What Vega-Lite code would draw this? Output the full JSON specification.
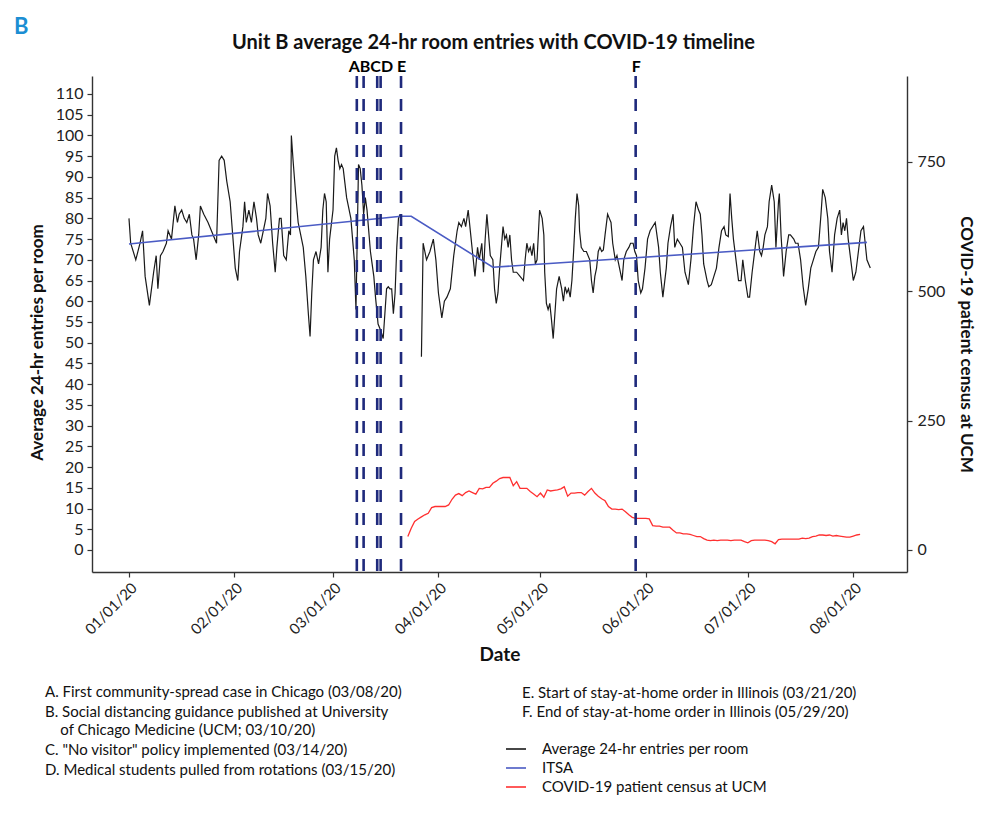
{
  "$schema": "https://vega.github.io/schema/vega-lite/v6.json",
  "width": 815,
  "height": 496,
  "autosize": {"type": "none"},
  "padding": {"left": 92, "top": 76, "right": 80, "bottom": 243},
  "background": "white",
  "title": {"text": "B", "anchor": "start", "frame": "group", "dx": -78, "dy": 11, "offset": 4, "fontSize": 22, "fontWeight": "bold", "color": "#1c8ed3", "font": "Lato"},
  "datasets": {
    "entries": [
      {"t":"2020-01-01T00:00","v":80,"seg":1},{"t":"2020-01-01T12:00","v":74,"seg":1},{"t":"2020-01-03T00:00","v":70,"seg":1},{"t":"2020-01-04T06:00","v":74,"seg":1},{"t":"2020-01-05T00:00","v":77,"seg":1},{"t":"2020-01-05T18:00","v":66,"seg":1},{"t":"2020-01-07T00:00","v":59,"seg":1},{"t":"2020-01-08T06:00","v":67,"seg":1},{"t":"2020-01-09T00:00","v":71,"seg":1},{"t":"2020-01-09T12:00","v":63,"seg":1},{"t":"2020-01-10T06:00","v":71,"seg":1},{"t":"2020-01-11T00:00","v":72,"seg":1},{"t":"2020-01-12T00:00","v":74,"seg":1},{"t":"2020-01-12T12:00","v":77,"seg":1},{"t":"2020-01-13T12:00","v":75,"seg":1},{"t":"2020-01-14T12:00","v":83,"seg":1},{"t":"2020-01-15T06:00","v":79,"seg":1},{"t":"2020-01-15T18:00","v":81,"seg":1},{"t":"2020-01-16T12:00","v":82,"seg":1},{"t":"2020-01-17T06:00","v":80,"seg":1},{"t":"2020-01-18T00:00","v":79,"seg":1},{"t":"2020-01-18T18:00","v":81,"seg":1},{"t":"2020-01-19T12:00","v":76,"seg":1},{"t":"2020-01-20T00:00","v":75,"seg":1},{"t":"2020-01-20T18:00","v":70,"seg":1},{"t":"2020-01-21T12:00","v":76,"seg":1},{"t":"2020-01-22T00:00","v":83,"seg":1},{"t":"2020-01-23T00:00","v":81,"seg":1},{"t":"2020-01-24T06:00","v":79,"seg":1},{"t":"2020-01-25T18:00","v":76,"seg":1},{"t":"2020-01-26T18:00","v":74,"seg":1},{"t":"2020-01-27T12:00","v":94,"seg":1},{"t":"2020-01-28T06:00","v":95,"seg":1},{"t":"2020-01-29T00:00","v":94,"seg":1},{"t":"2020-01-29T18:00","v":89,"seg":1},{"t":"2020-01-30T18:00","v":84,"seg":1},{"t":"2020-01-31T12:00","v":76,"seg":1},{"t":"2020-02-01T06:00","v":68,"seg":1},{"t":"2020-02-02T00:00","v":65,"seg":1},{"t":"2020-02-02T12:00","v":72,"seg":1},{"t":"2020-02-03T12:00","v":78,"seg":1},{"t":"2020-02-04T00:00","v":84,"seg":1},{"t":"2020-02-04T12:00","v":79,"seg":1},{"t":"2020-02-05T06:00","v":82,"seg":1},{"t":"2020-02-06T00:00","v":79,"seg":1},{"t":"2020-02-06T18:00","v":84,"seg":1},{"t":"2020-02-07T12:00","v":80,"seg":1},{"t":"2020-02-08T00:00","v":76,"seg":1},{"t":"2020-02-08T18:00","v":74,"seg":1},{"t":"2020-02-09T12:00","v":77,"seg":1},{"t":"2020-02-10T06:00","v":80,"seg":1},{"t":"2020-02-10T18:00","v":86,"seg":1},{"t":"2020-02-11T12:00","v":83,"seg":1},{"t":"2020-02-12T06:00","v":74,"seg":1},{"t":"2020-02-13T00:00","v":67,"seg":1},{"t":"2020-02-13T12:00","v":73,"seg":1},{"t":"2020-02-14T06:00","v":80,"seg":1},{"t":"2020-02-14T18:00","v":80,"seg":1},{"t":"2020-02-15T12:00","v":71,"seg":1},{"t":"2020-02-16T06:00","v":70,"seg":1},{"t":"2020-02-17T00:00","v":77,"seg":1},{"t":"2020-02-17T12:00","v":76,"seg":1},{"t":"2020-02-17T18:00","v":100,"seg":1},{"t":"2020-02-18T06:00","v":94,"seg":1},{"t":"2020-02-19T00:00","v":86,"seg":1},{"t":"2020-02-19T18:00","v":79,"seg":1},{"t":"2020-02-20T12:00","v":76,"seg":1},{"t":"2020-02-21T06:00","v":73,"seg":1},{"t":"2020-02-22T00:00","v":66,"seg":1},{"t":"2020-02-22T18:00","v":57,"seg":1},{"t":"2020-02-23T06:00","v":51.5,"seg":1},{"t":"2020-02-23T18:00","v":62,"seg":1},{"t":"2020-02-24T06:00","v":70,"seg":1},{"t":"2020-02-25T00:00","v":72,"seg":1},{"t":"2020-02-25T18:00","v":69,"seg":1},{"t":"2020-02-26T12:00","v":73,"seg":1},{"t":"2020-02-27T00:00","v":82,"seg":1},{"t":"2020-02-27T12:00","v":86,"seg":1},{"t":"2020-02-28T00:00","v":84,"seg":1},{"t":"2020-02-28T12:00","v":67,"seg":1},{"t":"2020-02-29T00:00","v":75,"seg":1},{"t":"2020-03-01T00:00","v":82,"seg":1},{"t":"2020-03-01T12:00","v":95,"seg":1},{"t":"2020-03-02T00:00","v":97,"seg":1},{"t":"2020-03-02T12:00","v":94,"seg":1},{"t":"2020-03-03T00:00","v":92,"seg":1},{"t":"2020-03-03T12:00","v":93,"seg":1},{"t":"2020-03-04T00:00","v":92,"seg":1},{"t":"2020-03-04T12:00","v":88.5,"seg":1},{"t":"2020-03-05T00:00","v":85,"seg":1},{"t":"2020-03-05T12:00","v":83,"seg":1},{"t":"2020-03-06T06:00","v":80,"seg":1},{"t":"2020-03-06T18:00","v":75,"seg":1},{"t":"2020-03-07T06:00","v":70,"seg":1},{"t":"2020-03-07T18:00","v":58,"seg":1},{"t":"2020-03-08T12:00","v":93,"seg":1},{"t":"2020-03-09T00:00","v":92,"seg":1},{"t":"2020-03-09T12:00","v":88,"seg":1},{"t":"2020-03-10T00:00","v":81,"seg":1},{"t":"2020-03-10T12:00","v":85,"seg":1},{"t":"2020-03-11T00:00","v":82,"seg":1},{"t":"2020-03-11T12:00","v":77,"seg":1},{"t":"2020-03-12T00:00","v":72,"seg":1},{"t":"2020-03-12T12:00","v":69,"seg":1},{"t":"2020-03-13T00:00","v":66,"seg":1},{"t":"2020-03-13T12:00","v":61,"seg":1},{"t":"2020-03-14T06:00","v":54.5,"seg":1},{"t":"2020-03-15T00:00","v":53,"seg":1},{"t":"2020-03-15T18:00","v":51,"seg":1},{"t":"2020-03-16T06:00","v":57,"seg":1},{"t":"2020-03-16T18:00","v":63,"seg":1},{"t":"2020-03-17T06:00","v":63.5,"seg":1},{"t":"2020-03-17T18:00","v":63,"seg":1},{"t":"2020-03-18T06:00","v":63,"seg":1},{"t":"2020-03-18T18:00","v":57,"seg":1},{"t":"2020-03-19T06:00","v":62,"seg":1},{"t":"2020-03-19T18:00","v":73,"seg":1},{"t":"2020-03-20T06:00","v":80,"seg":1},{"t":"2020-03-20T18:00","v":81,"seg":1},
      {"t":"2020-03-27T00:00","v":46.6,"seg":2},{"t":"2020-03-27T12:00","v":74,"seg":2},{"t":"2020-03-28T12:00","v":70,"seg":2},{"t":"2020-03-29T12:00","v":72,"seg":2},{"t":"2020-03-30T12:00","v":75,"seg":2},{"t":"2020-03-31T06:00","v":70,"seg":2},{"t":"2020-04-01T00:00","v":62,"seg":2},{"t":"2020-04-02T00:00","v":56,"seg":2},{"t":"2020-04-02T18:00","v":60,"seg":2},{"t":"2020-04-03T12:00","v":61,"seg":2},{"t":"2020-04-04T12:00","v":63,"seg":2},{"t":"2020-04-05T12:00","v":71,"seg":2},{"t":"2020-04-06T12:00","v":77,"seg":2},{"t":"2020-04-07T00:00","v":79,"seg":2},{"t":"2020-04-07T18:00","v":78,"seg":2},{"t":"2020-04-08T12:00","v":80,"seg":2},{"t":"2020-04-09T00:00","v":78,"seg":2},{"t":"2020-04-09T18:00","v":82,"seg":2},{"t":"2020-04-10T12:00","v":76,"seg":2},{"t":"2020-04-11T00:00","v":72,"seg":2},{"t":"2020-04-11T18:00","v":66,"seg":2},{"t":"2020-04-12T12:00","v":73,"seg":2},{"t":"2020-04-13T00:00","v":70,"seg":2},{"t":"2020-04-13T18:00","v":74,"seg":2},{"t":"2020-04-14T06:00","v":67,"seg":2},{"t":"2020-04-14T18:00","v":75,"seg":2},{"t":"2020-04-15T06:00","v":81,"seg":2},{"t":"2020-04-15T18:00","v":76,"seg":2},{"t":"2020-04-16T06:00","v":71,"seg":2},{"t":"2020-04-17T00:00","v":70,"seg":2},{"t":"2020-04-17T12:00","v":63,"seg":2},{"t":"2020-04-18T00:00","v":59.5,"seg":2},{"t":"2020-04-18T12:00","v":62,"seg":2},{"t":"2020-04-19T00:00","v":68,"seg":2},{"t":"2020-04-19T12:00","v":73,"seg":2},{"t":"2020-04-20T00:00","v":78,"seg":2},{"t":"2020-04-20T12:00","v":75,"seg":2},{"t":"2020-04-21T00:00","v":76,"seg":2},{"t":"2020-04-21T12:00","v":73,"seg":2},{"t":"2020-04-22T00:00","v":76,"seg":2},{"t":"2020-04-22T12:00","v":70,"seg":2},{"t":"2020-04-23T00:00","v":67,"seg":2},{"t":"2020-04-24T00:00","v":67,"seg":2},{"t":"2020-04-25T00:00","v":66,"seg":2},{"t":"2020-04-26T00:00","v":65,"seg":2},{"t":"2020-04-26T12:00","v":70,"seg":2},{"t":"2020-04-27T00:00","v":74,"seg":2},{"t":"2020-04-27T12:00","v":72,"seg":2},{"t":"2020-04-28T00:00","v":73,"seg":2},{"t":"2020-04-28T12:00","v":71,"seg":2},{"t":"2020-04-29T00:00","v":74,"seg":2},{"t":"2020-04-29T12:00","v":69,"seg":2},{"t":"2020-04-30T00:00","v":70,"seg":2},{"t":"2020-04-30T18:00","v":82,"seg":2},{"t":"2020-05-01T12:00","v":80,"seg":2},{"t":"2020-05-02T00:00","v":76,"seg":2},{"t":"2020-05-02T06:00","v":67,"seg":2},{"t":"2020-05-02T18:00","v":59.5,"seg":2},{"t":"2020-05-03T06:00","v":58,"seg":2},{"t":"2020-05-03T18:00","v":59.5,"seg":2},{"t":"2020-05-04T06:00","v":55.5,"seg":2},{"t":"2020-05-04T18:00","v":51,"seg":2},{"t":"2020-05-05T06:00","v":57,"seg":2},{"t":"2020-05-05T18:00","v":63,"seg":2},{"t":"2020-05-06T12:00","v":66,"seg":2},{"t":"2020-05-07T06:00","v":63,"seg":2},{"t":"2020-05-07T18:00","v":60,"seg":2},{"t":"2020-05-08T06:00","v":63.5,"seg":2},{"t":"2020-05-08T18:00","v":62,"seg":2},{"t":"2020-05-09T06:00","v":63,"seg":2},{"t":"2020-05-09T18:00","v":61,"seg":2},{"t":"2020-05-10T06:00","v":65,"seg":2},{"t":"2020-05-10T18:00","v":72,"seg":2},{"t":"2020-05-11T06:00","v":80,"seg":2},{"t":"2020-05-11T18:00","v":86,"seg":2},{"t":"2020-05-12T06:00","v":83,"seg":2},{"t":"2020-05-12T12:00","v":77,"seg":2},{"t":"2020-05-13T00:00","v":73,"seg":2},{"t":"2020-05-13T18:00","v":72,"seg":2},{"t":"2020-05-14T12:00","v":72,"seg":2},{"t":"2020-05-15T12:00","v":70,"seg":2},{"t":"2020-05-16T00:00","v":65,"seg":2},{"t":"2020-05-16T12:00","v":62,"seg":2},{"t":"2020-05-17T00:00","v":66,"seg":2},{"t":"2020-05-17T12:00","v":68,"seg":2},{"t":"2020-05-18T00:00","v":72,"seg":2},{"t":"2020-05-18T12:00","v":73,"seg":2},{"t":"2020-05-19T00:00","v":72,"seg":2},{"t":"2020-05-19T12:00","v":72.4,"seg":2},{"t":"2020-05-20T00:00","v":76,"seg":2},{"t":"2020-05-20T18:00","v":81,"seg":2},{"t":"2020-05-21T06:00","v":80,"seg":2},{"t":"2020-05-21T18:00","v":79,"seg":2},{"t":"2020-05-22T06:00","v":74,"seg":2},{"t":"2020-05-23T00:00","v":70,"seg":2},{"t":"2020-05-23T12:00","v":71,"seg":2},{"t":"2020-05-24T00:00","v":69,"seg":2},{"t":"2020-05-24T12:00","v":67,"seg":2},{"t":"2020-05-25T00:00","v":65,"seg":2},{"t":"2020-05-25T12:00","v":70,"seg":2},{"t":"2020-05-26T06:00","v":72,"seg":2},{"t":"2020-05-27T00:00","v":73,"seg":2},{"t":"2020-05-27T12:00","v":74,"seg":2},{"t":"2020-05-28T06:00","v":74,"seg":2},{"t":"2020-05-28T18:00","v":72,"seg":2},{"t":"2020-05-29T06:00","v":71,"seg":2},{"t":"2020-05-29T18:00","v":65,"seg":2},{"t":"2020-05-30T12:00","v":62,"seg":2},{"t":"2020-05-31T00:00","v":63,"seg":2},{"t":"2020-05-31T18:00","v":68,"seg":2},{"t":"2020-06-01T12:00","v":75,"seg":2},{"t":"2020-06-02T06:00","v":77,"seg":2},{"t":"2020-06-03T18:00","v":79,"seg":2},{"t":"2020-06-04T18:00","v":73,"seg":2},{"t":"2020-06-05T06:00","v":67,"seg":2},{"t":"2020-06-06T00:00","v":61,"seg":2},{"t":"2020-06-07T00:00","v":68,"seg":2},{"t":"2020-06-07T12:00","v":74,"seg":2},{"t":"2020-06-08T06:00","v":78,"seg":2},{"t":"2020-06-09T00:00","v":81,"seg":2},{"t":"2020-06-09T12:00","v":73,"seg":2},{"t":"2020-06-10T06:00","v":75,"seg":2},{"t":"2020-06-11T00:00","v":74,"seg":2},{"t":"2020-06-11T18:00","v":73,"seg":2},{"t":"2020-06-12T12:00","v":67,"seg":2},{"t":"2020-06-13T12:00","v":64,"seg":2},{"t":"2020-06-14T06:00","v":70,"seg":2},{"t":"2020-06-15T00:00","v":78,"seg":2},{"t":"2020-06-15T18:00","v":84,"seg":2},{"t":"2020-06-16T12:00","v":82,"seg":2},{"t":"2020-06-17T00:00","v":81,"seg":2},{"t":"2020-06-17T12:00","v":76,"seg":2},{"t":"2020-06-18T00:00","v":69,"seg":2},{"t":"2020-06-19T00:00","v":65,"seg":2},{"t":"2020-06-19T12:00","v":63.5,"seg":2},{"t":"2020-06-20T06:00","v":64,"seg":2},{"t":"2020-06-21T00:00","v":66,"seg":2},{"t":"2020-06-21T18:00","v":68,"seg":2},{"t":"2020-06-22T12:00","v":73,"seg":2},{"t":"2020-06-23T06:00","v":77,"seg":2},{"t":"2020-06-24T00:00","v":78,"seg":2},{"t":"2020-06-24T12:00","v":76,"seg":2},{"t":"2020-06-25T06:00","v":75.6,"seg":2},{"t":"2020-06-25T18:00","v":86,"seg":2},{"t":"2020-06-26T06:00","v":80,"seg":2},{"t":"2020-06-26T18:00","v":75,"seg":2},{"t":"2020-06-27T12:00","v":70,"seg":2},{"t":"2020-06-28T06:00","v":65,"seg":2},{"t":"2020-06-29T00:00","v":65,"seg":2},{"t":"2020-06-29T12:00","v":70,"seg":2},{"t":"2020-06-30T06:00","v":65,"seg":2},{"t":"2020-07-01T00:00","v":61,"seg":2},{"t":"2020-07-01T12:00","v":61,"seg":2},{"t":"2020-07-02T06:00","v":67,"seg":2},{"t":"2020-07-03T00:00","v":72,"seg":2},{"t":"2020-07-03T18:00","v":77,"seg":2},{"t":"2020-07-04T12:00","v":72,"seg":2},{"t":"2020-07-05T00:00","v":71,"seg":2},{"t":"2020-07-05T12:00","v":73,"seg":2},{"t":"2020-07-06T00:00","v":76,"seg":2},{"t":"2020-07-06T18:00","v":78,"seg":2},{"t":"2020-07-07T06:00","v":84,"seg":2},{"t":"2020-07-08T00:00","v":88,"seg":2},{"t":"2020-07-08T18:00","v":84,"seg":2},{"t":"2020-07-09T06:00","v":73,"seg":2},{"t":"2020-07-10T00:00","v":84,"seg":2},{"t":"2020-07-10T06:00","v":86,"seg":2},{"t":"2020-07-10T18:00","v":76,"seg":2},{"t":"2020-07-11T12:00","v":66,"seg":2},{"t":"2020-07-12T06:00","v":72,"seg":2},{"t":"2020-07-13T00:00","v":76,"seg":2},{"t":"2020-07-13T12:00","v":76,"seg":2},{"t":"2020-07-14T12:00","v":75,"seg":2},{"t":"2020-07-15T00:00","v":74,"seg":2},{"t":"2020-07-15T18:00","v":74,"seg":2},{"t":"2020-07-16T12:00","v":70,"seg":2},{"t":"2020-07-17T06:00","v":63.5,"seg":2},{"t":"2020-07-18T00:00","v":59,"seg":2},{"t":"2020-07-18T18:00","v":63,"seg":2},{"t":"2020-07-19T12:00","v":68,"seg":2},{"t":"2020-07-20T06:00","v":70,"seg":2},{"t":"2020-07-21T00:00","v":72,"seg":2},{"t":"2020-07-21T18:00","v":73,"seg":2},{"t":"2020-07-22T12:00","v":81,"seg":2},{"t":"2020-07-23T00:00","v":87,"seg":2},{"t":"2020-07-23T18:00","v":85,"seg":2},{"t":"2020-07-24T12:00","v":80,"seg":2},{"t":"2020-07-25T00:00","v":72,"seg":2},{"t":"2020-07-25T18:00","v":67,"seg":2},{"t":"2020-07-26T12:00","v":76,"seg":2},{"t":"2020-07-27T06:00","v":80,"seg":2},{"t":"2020-07-28T00:00","v":82,"seg":2},{"t":"2020-07-28T12:00","v":76,"seg":2},{"t":"2020-07-29T00:00","v":79,"seg":2},{"t":"2020-07-29T12:00","v":77,"seg":2},{"t":"2020-07-30T00:00","v":80,"seg":2},{"t":"2020-07-30T12:00","v":75,"seg":2},{"t":"2020-07-31T06:00","v":70,"seg":2},{"t":"2020-08-01T00:00","v":65,"seg":2},{"t":"2020-08-01T18:00","v":67,"seg":2},{"t":"2020-08-02T12:00","v":72,"seg":2},{"t":"2020-08-03T06:00","v":77,"seg":2},{"t":"2020-08-04T00:00","v":78,"seg":2},{"t":"2020-08-04T12:00","v":74,"seg":2},{"t":"2020-08-05T00:00","v":70,"seg":2},{"t":"2020-08-06T00:00","v":68,"seg":2}
    ],
    "itsa": [
      {"t":"2020-01-01T00:00","v":73.8},{"t":"2020-03-21T00:00","v":80.5},{"t":"2020-03-24T00:00","v":80.5},{"t":"2020-04-17T00:00","v":68.2},{"t":"2020-08-05T00:00","v":74.2}
    ],
    "census": [
      {"t":"2020-03-23T00:00","v":26},{"t":"2020-03-24T00:00","v":42},{"t":"2020-03-25T00:00","v":55},{"t":"2020-03-26T00:00","v":60},{"t":"2020-03-27T00:00","v":64},{"t":"2020-03-28T00:00","v":68},{"t":"2020-03-29T00:00","v":71},{"t":"2020-03-30T00:00","v":82},{"t":"2020-03-31T00:00","v":84},{"t":"2020-04-01T00:00","v":84},{"t":"2020-04-02T00:00","v":84},{"t":"2020-04-03T00:00","v":84},{"t":"2020-04-04T00:00","v":87},{"t":"2020-04-05T00:00","v":98},{"t":"2020-04-06T00:00","v":106},{"t":"2020-04-07T00:00","v":109},{"t":"2020-04-08T00:00","v":105},{"t":"2020-04-09T00:00","v":111},{"t":"2020-04-10T00:00","v":114},{"t":"2020-04-11T00:00","v":111},{"t":"2020-04-12T00:00","v":108},{"t":"2020-04-13T00:00","v":119},{"t":"2020-04-14T00:00","v":118},{"t":"2020-04-15T00:00","v":121},{"t":"2020-04-16T00:00","v":121},{"t":"2020-04-17T00:00","v":129},{"t":"2020-04-18T00:00","v":133},{"t":"2020-04-19T00:00","v":138},{"t":"2020-04-20T00:00","v":140},{"t":"2020-04-21T00:00","v":140},{"t":"2020-04-22T00:00","v":140},{"t":"2020-04-23T00:00","v":124},{"t":"2020-04-24T00:00","v":132},{"t":"2020-04-25T00:00","v":119},{"t":"2020-04-26T00:00","v":119},{"t":"2020-04-27T00:00","v":119},{"t":"2020-04-28T00:00","v":113},{"t":"2020-04-29T00:00","v":108},{"t":"2020-04-30T00:00","v":103},{"t":"2020-05-01T00:00","v":110},{"t":"2020-05-02T00:00","v":102},{"t":"2020-05-03T00:00","v":116},{"t":"2020-05-04T00:00","v":114},{"t":"2020-05-05T00:00","v":115},{"t":"2020-05-06T00:00","v":116},{"t":"2020-05-07T00:00","v":118},{"t":"2020-05-08T00:00","v":122},{"t":"2020-05-09T00:00","v":104},{"t":"2020-05-10T00:00","v":110},{"t":"2020-05-11T00:00","v":110},{"t":"2020-05-12T00:00","v":111},{"t":"2020-05-13T00:00","v":111},{"t":"2020-05-14T00:00","v":106},{"t":"2020-05-15T00:00","v":113},{"t":"2020-05-16T00:00","v":119},{"t":"2020-05-17T00:00","v":110},{"t":"2020-05-18T00:00","v":104},{"t":"2020-05-19T00:00","v":99},{"t":"2020-05-20T00:00","v":95},{"t":"2020-05-21T00:00","v":84},{"t":"2020-05-22T00:00","v":79},{"t":"2020-05-23T00:00","v":79},{"t":"2020-05-24T00:00","v":78},{"t":"2020-05-25T00:00","v":79},{"t":"2020-05-26T00:00","v":74},{"t":"2020-05-27T00:00","v":68},{"t":"2020-05-28T00:00","v":63},{"t":"2020-05-29T00:00","v":61},{"t":"2020-05-30T00:00","v":61},{"t":"2020-05-31T00:00","v":61},{"t":"2020-06-01T00:00","v":61},{"t":"2020-06-02T00:00","v":60},{"t":"2020-06-03T00:00","v":47},{"t":"2020-06-04T00:00","v":46},{"t":"2020-06-05T00:00","v":46},{"t":"2020-06-06T00:00","v":44},{"t":"2020-06-07T00:00","v":44},{"t":"2020-06-08T00:00","v":44},{"t":"2020-06-09T00:00","v":38},{"t":"2020-06-10T00:00","v":33},{"t":"2020-06-11T00:00","v":33},{"t":"2020-06-12T00:00","v":31},{"t":"2020-06-13T00:00","v":31},{"t":"2020-06-14T00:00","v":30},{"t":"2020-06-15T00:00","v":28},{"t":"2020-06-16T00:00","v":26},{"t":"2020-06-17T00:00","v":26},{"t":"2020-06-18T00:00","v":22},{"t":"2020-06-19T00:00","v":19},{"t":"2020-06-20T00:00","v":18},{"t":"2020-06-21T00:00","v":19},{"t":"2020-06-22T00:00","v":18},{"t":"2020-06-23T00:00","v":19},{"t":"2020-06-24T00:00","v":19},{"t":"2020-06-25T00:00","v":19},{"t":"2020-06-26T00:00","v":18},{"t":"2020-06-27T00:00","v":19},{"t":"2020-06-28T00:00","v":19},{"t":"2020-06-29T00:00","v":19},{"t":"2020-06-30T00:00","v":16},{"t":"2020-07-01T00:00","v":14},{"t":"2020-07-02T00:00","v":18},{"t":"2020-07-03T00:00","v":19},{"t":"2020-07-04T00:00","v":19},{"t":"2020-07-05T00:00","v":19},{"t":"2020-07-06T00:00","v":19},{"t":"2020-07-07T00:00","v":18},{"t":"2020-07-08T00:00","v":16},{"t":"2020-07-09T00:00","v":12},{"t":"2020-07-10T00:00","v":20},{"t":"2020-07-11T00:00","v":21},{"t":"2020-07-12T00:00","v":21},{"t":"2020-07-13T00:00","v":21},{"t":"2020-07-14T00:00","v":21},{"t":"2020-07-15T00:00","v":21},{"t":"2020-07-16T00:00","v":21},{"t":"2020-07-17T00:00","v":23},{"t":"2020-07-18T00:00","v":22},{"t":"2020-07-19T00:00","v":23},{"t":"2020-07-20T00:00","v":26},{"t":"2020-07-21T00:00","v":27},{"t":"2020-07-22T00:00","v":29},{"t":"2020-07-23T00:00","v":29},{"t":"2020-07-24T00:00","v":28},{"t":"2020-07-25T00:00","v":29},{"t":"2020-07-26T00:00","v":27},{"t":"2020-07-27T00:00","v":28},{"t":"2020-07-28T00:00","v":27},{"t":"2020-07-29T00:00","v":26},{"t":"2020-07-30T00:00","v":25},{"t":"2020-07-31T00:00","v":25},{"t":"2020-08-01T00:00","v":27},{"t":"2020-08-02T00:00","v":29},{"t":"2020-08-03T00:00","v":30}
    ],
    "eventsL": [
      {"t":"2020-03-08T00:00","ev":"A. First community-spread case in Chicago (03/08/20)"},
      {"t":"2020-03-10T00:00","ev":"B. Social distancing guidance published at University of Chicago Medicine (UCM; 03/10/20)"},
      {"t":"2020-03-14T00:00","ev":"C. \"No visitor\" policy implemented (03/14/20)"},
      {"t":"2020-03-15T00:00","ev":"D. Medical students pulled from rotations (03/15/20)"}
    ],
    "eventsR": [
      {"t":"2020-03-21T00:00","ev2":"E. Start of stay-at-home order in Illinois (03/21/20)"},
      {"t":"2020-05-29T00:00","ev2":"F. End of stay-at-home order in Illinois (05/29/20)"}
    ]
  },
  "layer": [
    {
      "layer": [
        {
          "data": {"name": "entries"},
          "mark": {"type": "line", "strokeWidth": 1.2},
          "encoding": {
            "x": {"field": "t", "type": "temporal",
              "scale": {"domain": [{"year": 2019, "month": 12, "date": 21, "hours": 3}, {"year": 2020, "month": 8, "date": 16, "hours": 19}]},
              "axis": {"orient": "bottom", "title": "Date", "format": "%m/%d/%y",
                "values": [{"year":2020,"month":1,"date":1},{"year":2020,"month":2,"date":1},{"year":2020,"month":3,"date":1},{"year":2020,"month":4,"date":1},{"year":2020,"month":5,"date":1},{"year":2020,"month":6,"date":1},{"year":2020,"month":7,"date":1},{"year":2020,"month":8,"date":1}],
                "labelAngle": -45, "labelAlign": "right", "labelBaseline": "top", "labelPadding": 3, "tickSize": 5, "labelOverlap": false,
                "titleFontSize": 19, "titlePadding": 8}},
            "y": {"field": "v", "type": "quantitative",
              "scale": {"domain": [-5.31, 114.34], "nice": false, "zero": false},
              "axis": {"orient": "left", "title": "Average 24-hr entries per room",
                "values": [0,5,10,15,20,25,30,35,40,45,50,55,60,65,70,75,80,85,90,95,100,105,110],
                "labelOverlap": false, "labelFontSize": 16,
                "tickSize": 5, "labelPadding": 4, "titlePadding": 9, "titleY": 266}},
            "detail": {"field": "seg", "type": "nominal"},
            "color": {"datum": "Average 24-hr entries per room", "type": "nominal",
              "scale": {"domain": ["Average 24-hr entries per room", "ITSA", "COVID-19 patient census at UCM"], "range": ["#1a1a1a", "#4a5bc4", "#ff3030"]},
              "legend": {"orient": "none", "legendX": 413, "legendY": 662, "title": null, "symbolType": "stroke", "symbolSize": 400, "symbolStrokeWidth": 1.6, "labelFontSize": 15, "labelOffset": 15, "rowPadding": 0, "labelLimit": 0, "padding": 0}}
          }
        },
        {
          "data": {"name": "itsa"},
          "mark": {"type": "line", "strokeWidth": 1.6},
          "encoding": {
            "x": {"field": "t", "type": "temporal",
              "axis": {"orient": "bottom", "title": "Date", "format": "%m/%d/%y",
                "values": [{"year":2020,"month":1,"date":1},{"year":2020,"month":2,"date":1},{"year":2020,"month":3,"date":1},{"year":2020,"month":4,"date":1},{"year":2020,"month":5,"date":1},{"year":2020,"month":6,"date":1},{"year":2020,"month":7,"date":1},{"year":2020,"month":8,"date":1}],
                "labelAngle": -45, "labelAlign": "right", "labelBaseline": "top", "labelPadding": 3, "tickSize": 5, "labelOverlap": false,
                "titleFontSize": 19, "titlePadding": 8}},
            "y": {"field": "v", "type": "quantitative",
              "axis": {"orient": "left", "title": "Average 24-hr entries per room",
                "values": [0,5,10,15,20,25,30,35,40,45,50,55,60,65,70,75,80,85,90,95,100,105,110],
                "labelOverlap": false, "labelFontSize": 16,
                "tickSize": 5, "labelPadding": 4, "titlePadding": 9, "titleY": 266}},
            "color": {"datum": "ITSA", "type": "nominal"}
          }
        }
      ]
    },
    {
      "data": {"name": "census"},
      "mark": {"type": "line", "strokeWidth": 1.3},
      "encoding": {
        "x": {"field": "t", "type": "temporal", "axis": null},
        "y": {"field": "v", "type": "quantitative",
          "scale": {"domain": [-42.5, 915.6], "nice": false, "zero": false},
          "axis": {"orient": "right", "title": "COVID-19 patient census at UCM", "values": [0, 250, 500, 750], "labelFontSize": 16, "tickSize": 5, "labelPadding": 5, "titlePadding": 12, "titleY": 268}},
        "color": {"datum": "COVID-19 patient census at UCM", "type": "nominal"}
      }
    },
    {
      "data": {"name": "eventsL"},
      "mark": {"type": "rule", "color": "#1f2a7c", "strokeWidth": 2.6},
      "encoding": {
        "x": {"field": "t", "type": "temporal",
          "axis": {"orient": "top", "title": "Unit B average 24-hr room entries with COVID-19 timeline",
            "values": [{"year":2020,"month":3,"date":12},{"year":2020,"month":3,"date":21},{"year":2020,"month":5,"date":29}],
            "labelExpr": "date(datum.value) == 12 ? 'ABCD' : date(datum.value) == 21 ? 'E' : 'F'",
            "domain": false, "ticks": false, "labelPadding": 2, "labelFontWeight": "bold", "labelFontSize": 16, "labelColor": "#000", "labelOverlap": false,
            "titleFontSize": 20, "titlePadding": 6, "titleX": 401}},
        "strokeDash": {"field": "ev", "type": "nominal",
          "scale": {"range": [[12, 11], [12, 11], [12, 11], [12, 11]]},
          "legend": {"orient": "none", "legendX": -62, "legendY": 608, "title": null, "symbolSize": 0, "symbolOpacity": 0, "symbolStrokeWidth": 0, "labelOffset": 0, "labelFontSize": 15, "rowPadding": 4, "labelLimit": 0, "padding": 0,
            "labelExpr": "slice(datum.label, 0, 1) == 'B' ? ['B. Social distancing guidance published at University', '\u200b\u00a0\u00a0\u00a0\u00a0of Chicago Medicine (UCM; 03/10/20)'] : datum.label"}}
      }
    },
    {
      "data": {"name": "eventsR"},
      "mark": {"type": "rule", "color": "#1f2a7c", "strokeWidth": 2.6},
      "encoding": {
        "x": {"field": "t", "type": "temporal", "axis": null},
        "strokeDash": {"field": "ev2", "type": "nominal",
          "scale": {"range": [[12, 11], [12, 11]]},
          "legend": {"orient": "none", "legendX": 415, "legendY": 609, "title": null, "symbolSize": 0, "symbolOpacity": 0, "symbolStrokeWidth": 0, "labelOffset": 0, "labelFontSize": 15, "rowPadding": 3, "labelLimit": 0, "padding": 0}}
      }
    }
  ],
  "resolve": {
    "scale": {"y": "independent", "strokeDash": "independent"},
    "axis": {"x": "independent", "y": "independent"},
    "legend": {"strokeDash": "independent"}
  },
  "config": {
    "font": "Lato",
    "view": {"stroke": null},
    "axis": {"labelFont": "Lato", "labelFontSize": 15, "labelColor": "#222", "titleFont": "Lato", "titleFontWeight": "bold", "titleFontSize": 17, "titleColor": "#111", "domainColor": "#333", "tickColor": "#333", "domainWidth": 1.4, "tickWidth": 1.2, "grid": false},
    "legend": {"labelFont": "Lato", "labelColor": "#111"},
    "style": {"guide-label": {"lineHeight": 18}}
  }
}
